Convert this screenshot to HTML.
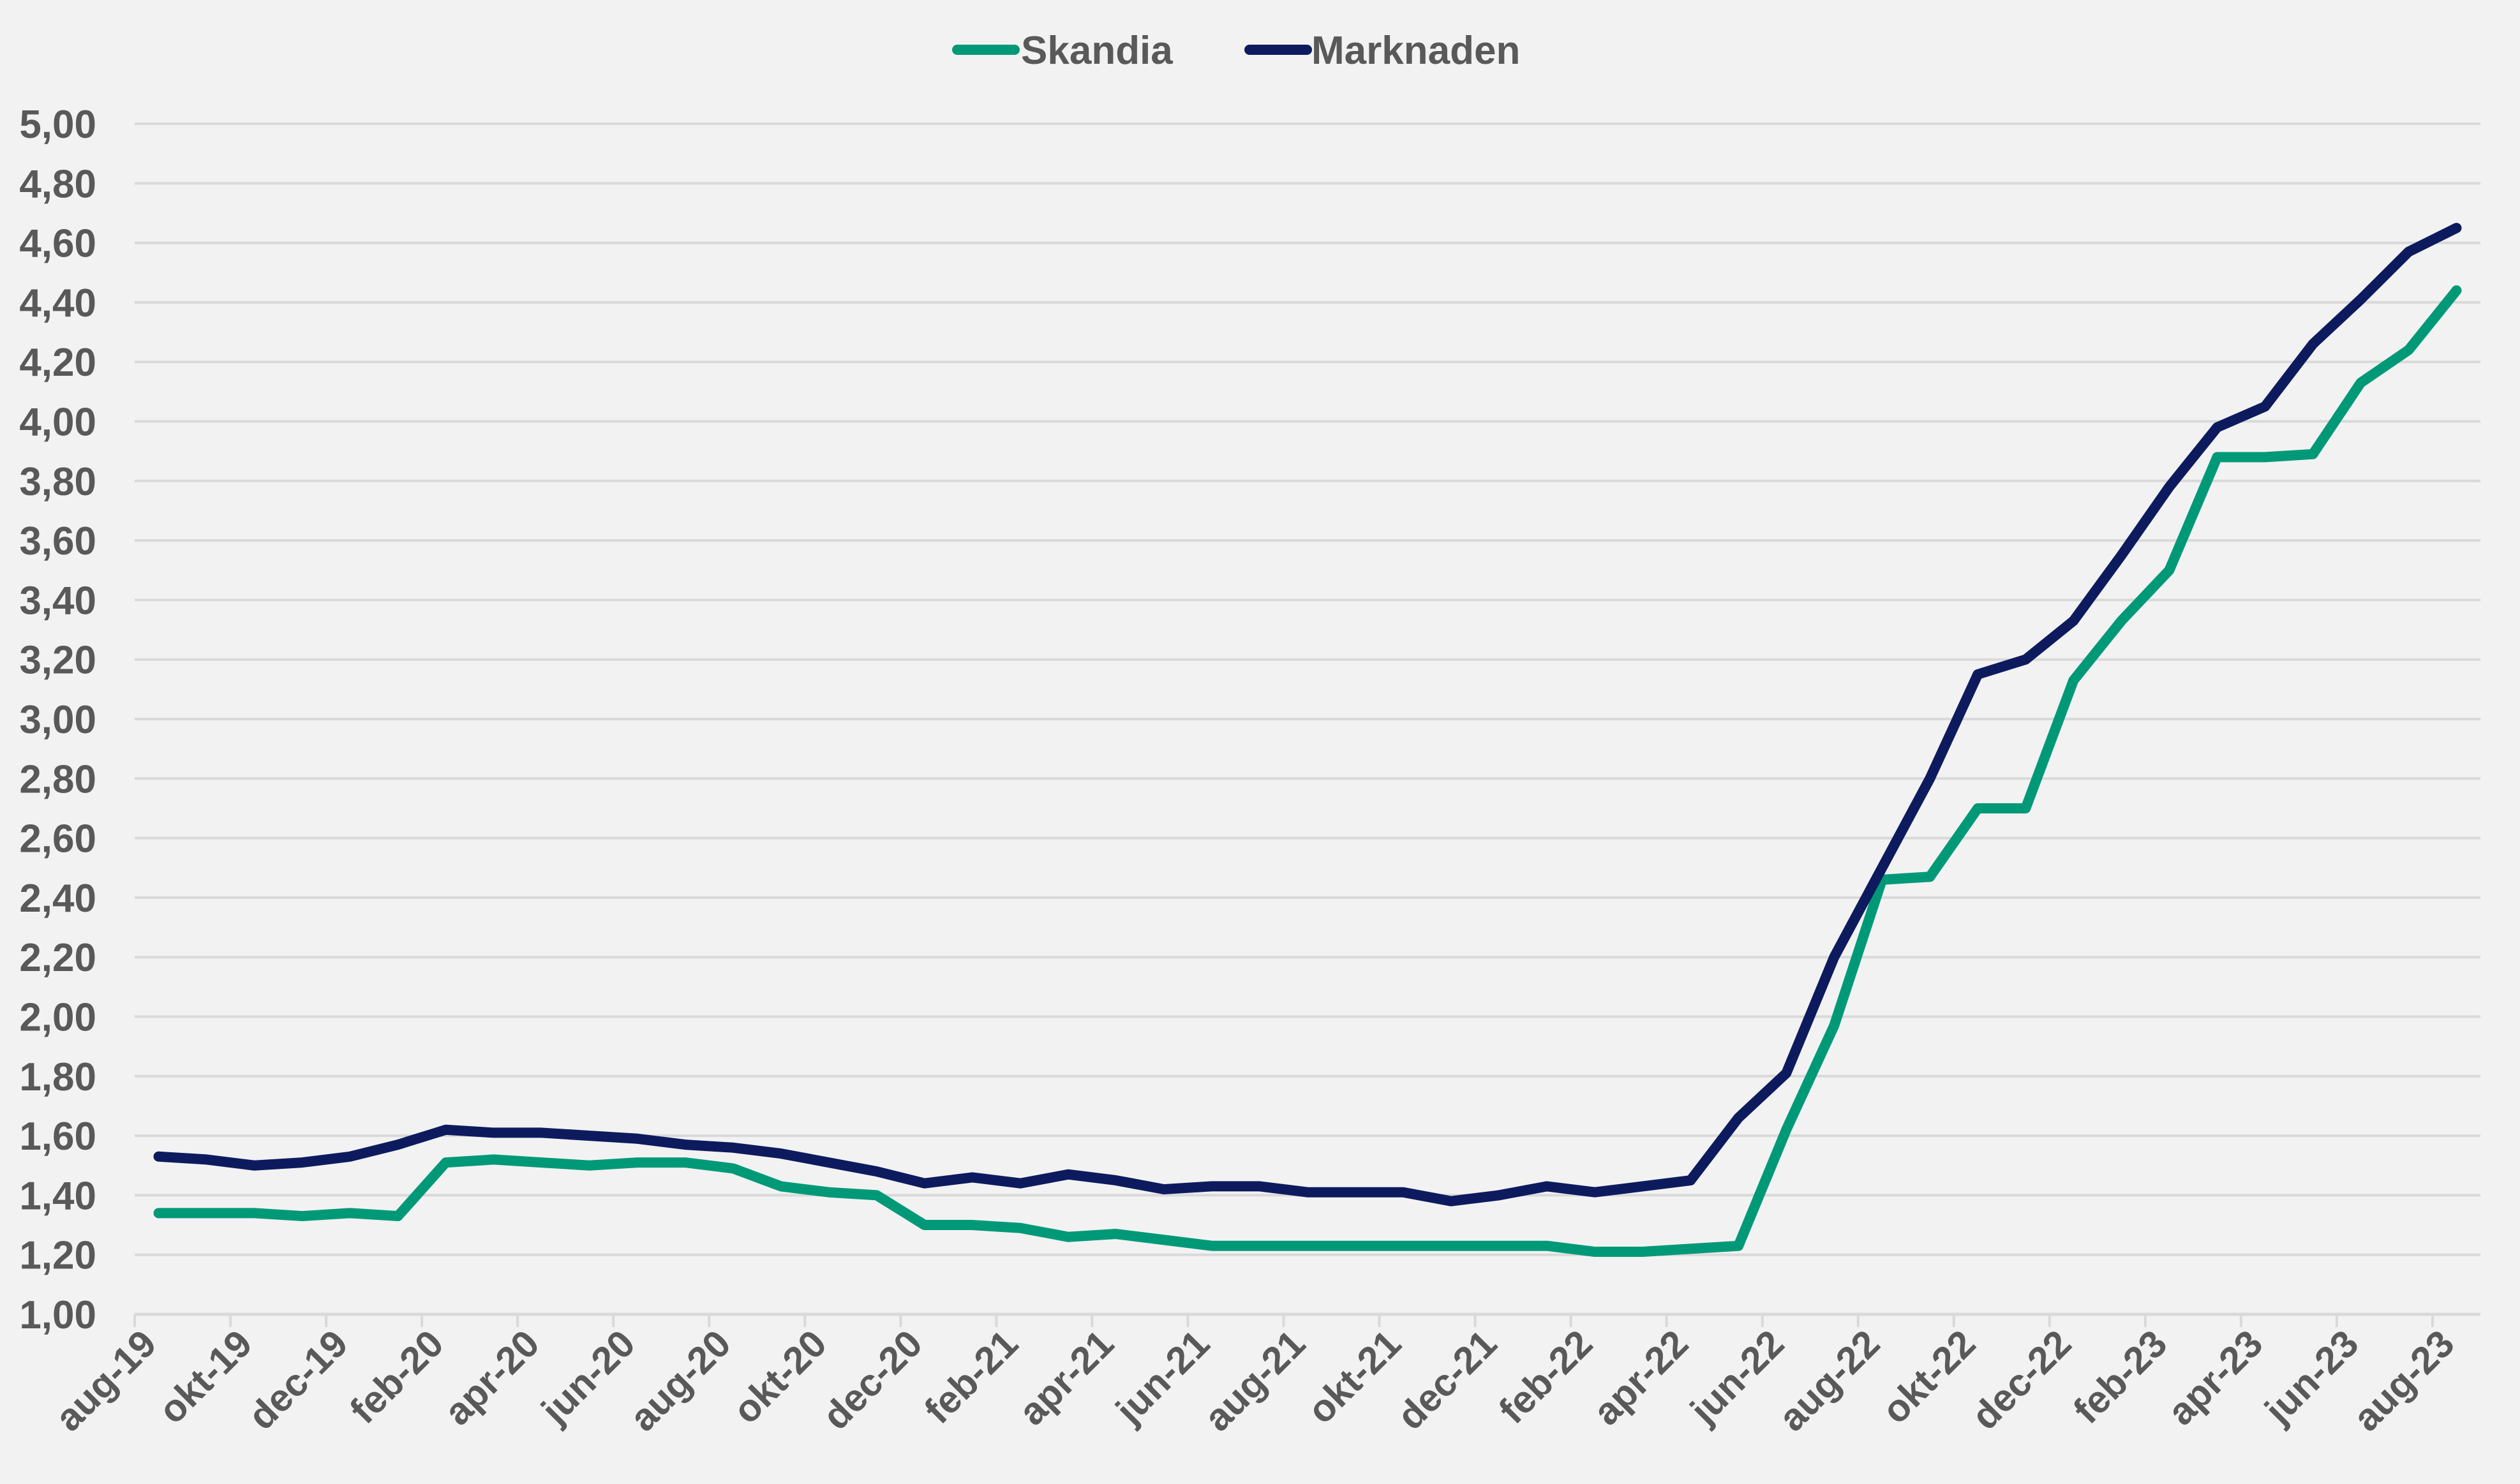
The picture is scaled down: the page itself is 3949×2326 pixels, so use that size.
<!DOCTYPE html>
<html><head><meta charset="utf-8"><style>
html,body{margin:0;padding:0;background:#f2f2f2;}
svg{display:block;font-family:"Liberation Sans",Arial,sans-serif;font-weight:bold;}
</style></head><body>
<svg id="chart" width="3949" height="2326" viewBox="0 0 3949 2326" xmlns="http://www.w3.org/2000/svg">
<rect width="3949" height="2326" fill="#f2f2f2"/>
<g id="grid"></g>
<g id="yaxis"></g>
<g id="xaxis"></g>
<g id="series"></g>
<g>
  <g>
    <line x1="1500" y1="78" x2="1590" y2="78" stroke="#009977" stroke-width="16" stroke-linecap="round"/>
    <text x="1600" y="100" font-size="62" fill="#595959">Skandia</text>
  </g>
  <g>
    <line x1="1958" y1="78" x2="2048" y2="78" stroke="#0d1b5e" stroke-width="16" stroke-linecap="round"/>
    <text x="2055" y="100" font-size="62" fill="#595959">Marknaden</text>
  </g>
</g>
</svg>
<script>
const categories = ["aug-19","sep-19","okt-19","nov-19","dec-19","jan-20","feb-20","mar-20","apr-20","maj-20","jun-20","jul-20","aug-20","sep-20","okt-20","nov-20","dec-20","jan-21","feb-21","mar-21","apr-21","maj-21","jun-21","jul-21","aug-21","sep-21","okt-21","nov-21","dec-21","jan-22","feb-22","mar-22","apr-22","maj-22","jun-22","jul-22","aug-22","sep-22","okt-22","nov-22","dec-22","jan-23","feb-23","mar-23","apr-23","maj-23","jun-23","jul-23","aug-23"];
const skandia = [1.34,1.34,1.34,1.33,1.34,1.33,1.51,1.52,1.51,1.50,1.51,1.51,1.49,1.43,1.41,1.40,1.30,1.30,1.29,1.26,1.27,1.25,1.23,1.23,1.23,1.23,1.23,1.23,1.23,1.23,1.21,1.21,1.22,1.23,1.62,1.97,2.46,2.47,2.70,2.70,3.13,3.33,3.50,3.88,3.88,3.89,4.13,4.24,4.44];
const marknaden = [1.53,1.52,1.50,1.51,1.53,1.57,1.62,1.61,1.61,1.60,1.59,1.57,1.56,1.54,1.51,1.48,1.44,1.46,1.44,1.47,1.45,1.42,1.43,1.43,1.41,1.41,1.41,1.38,1.40,1.43,1.41,1.43,1.45,1.66,1.81,2.20,2.50,2.80,3.15,3.20,3.33,3.55,3.78,3.98,4.05,4.26,4.41,4.57,4.65];
const yTicks = [1.0,1.2,1.4,1.6,1.8,2.0,2.2,2.4,2.6,2.8,3.0,3.2,3.4,3.6,3.8,4.0,4.2,4.4,4.6,4.8,5.0];

const NS="http://www.w3.org/2000/svg";
const L=211, R=3887, T=194, B=2060, yMin=1, yMax=5;
const bw=(R-L)/categories.length;
function x(i){return L+bw*(i+0.5);}
function y(v){return B-(v-yMin)/(yMax-yMin)*(B-T);}
function mk(tag,attrs,parent){const e=document.createElementNS(NS,tag);for(const k in attrs)e.setAttribute(k,attrs[k]);parent.appendChild(e);return e;}

const grid=document.getElementById('grid'), ya=document.getElementById('yaxis'), xa=document.getElementById('xaxis'), ser=document.getElementById('series');
yTicks.forEach(v=>{
  const g=mk('line',{x1:L,x2:R,y1:y(v),y2:y(v),stroke:'#d9d9d9','stroke-width':v===yMin?5:4},grid);
  
  
  const t=mk('text',{x:151,y:y(v)+22,'text-anchor':'end','font-size':62,fill:'#595959'},ya);
  t.textContent=v.toFixed(2).replace('.',',');
  
  
});
categories.forEach((c,i)=>{
  if(i%2!==0)return;
  const tx=L+bw*i;
  const tk=mk('line',{x1:tx,x2:tx,y1:B,y2:B+20,stroke:'#d9d9d9','stroke-width':4},xa);
  
  
  const cx=x(i), cy=2110;
  const t=mk('text',{x:cx,y:cy,'text-anchor':'end','font-size':60,fill:'#595959',transform:`rotate(-45 ${cx} ${cy})`},xa);
  t.textContent=c;
  
  
});
function line(data,color,name){
  const p=mk('polyline',{points:data.map((v,i)=>x(i)+','+y(v)).join(' '),fill:'none',stroke:color,'stroke-width':16,'stroke-linejoin':'round','stroke-linecap':'round'},ser);
  
  
}
line(skandia,'#009977','skandia-line');
line(marknaden,'#0d1b5e','marknaden-line');
</script>
</body></html>
